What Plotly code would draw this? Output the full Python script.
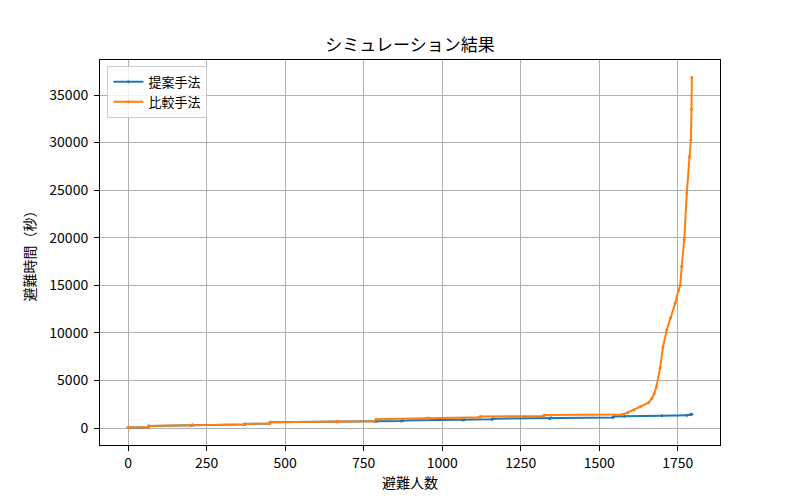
import plotly.graph_objects as go

prop_x = [0, 64, 66, 200, 205, 370, 372, 450, 452, 665, 668, 785, 790, 870, 875,
          1065, 1070, 1158, 1162, 1342, 1346, 1543, 1547, 1580, 1700, 1780, 1790, 1795]
prop_y = [40, 60, 200, 260, 320, 380, 430, 460, 600, 650, 700, 715, 720, 740, 790,
          840, 880, 920, 980, 1010, 1080, 1110, 1200, 1240, 1290, 1330, 1420, 1450]

# 比較手法 (comparison method)
comp_x = [0, 64, 66, 200, 205, 370, 372, 450, 452, 665, 668, 785, 790, 950, 955,
          1118, 1122, 1322, 1326, 1575, 1590, 1610, 1631, 1657, 1668, 1675, 1682,
          1694, 1703, 1715, 1728, 1742, 1752, 1758, 1763, 1771, 1779, 1787, 1792,
          1794, 1795]
comp_y = [40, 60, 200, 260, 320, 380, 430, 460, 600, 650, 700, 720, 920, 990, 1060,
          1120, 1200, 1260, 1370, 1420, 1610, 1890, 2240, 2660, 3100, 3600, 4300,
          6300, 8500, 10300, 11600, 13100, 14400, 15000, 17000, 19800, 24700, 28500,
          30300, 33500, 36840]

x_ticks = [0, 250, 500, 750, 1000, 1250, 1500, 1750]
y_ticks = [0, 5000, 10000, 15000, 20000, 25000, 30000, 35000]

title = "シミュレーション結果"
x_label = "避難人数"
y_label = "避難時間（秒）"

FONT = "Noto Sans CJK JP, DejaVu Sans"

fig = go.Figure()
fig.add_trace(go.Scatter(x=prop_x, y=prop_y, name="提案手法", mode="lines+markers",
                         line=dict(color="#1f77b4", width=2),
                         marker=dict(color="#1f77b4", size=3)))
fig.add_trace(go.Scatter(x=comp_x, y=comp_y, name="比較手法", mode="lines+markers",
                         line=dict(color="#ff7f0e", width=2),
                         marker=dict(color="#ff7f0e", size=3)))

axis_common = dict(showgrid=True, gridcolor="#b0b0b0", gridwidth=0.8,
                   showline=True, linecolor="black", linewidth=1, mirror=True,
                   ticks="outside", ticklen=5, tickcolor="black", tickwidth=1,
                   zeroline=False, automargin=False,
                   tickfont=dict(family=FONT, size=14, color="black"))

W, H = 792, 492
fig.update_layout(
    width=W, height=H,
    paper_bgcolor="white", plot_bgcolor="white",
    margin=dict(l=92, r=80, t=52, b=55),
    font=dict(family=FONT, color="black"),
    title=dict(text=title, x=0.5, xanchor="center", xref="paper",
               y=1 - 37 / H, yref="container", yanchor="middle",
               font=dict(family=FONT, size=17, color="black")),
    xaxis=dict(range=[-89.75, 1884.75], tickvals=x_ticks,
               ticktext=[str(v) for v in x_ticks],
               title=dict(text=x_label, standoff=4, font=dict(family=FONT, size=14)),
               **axis_common),
    yaxis=dict(range=[-1787, 38680], tickvals=y_ticks,
               ticktext=[str(v) for v in y_ticks], ticklabelstandoff=3,
               title=dict(text=y_label, standoff=10, font=dict(family=FONT, size=14)),
               **axis_common),
    legend=dict(x=0.012, y=0.985, xanchor="left", yanchor="top",
                bgcolor="rgba(255,255,255,0.8)", bordercolor="#cccccc", borderwidth=1,
                font=dict(family=FONT, size=13), tracegroupgap=0),
    showlegend=True,
)

fig.write_html("out.html")
